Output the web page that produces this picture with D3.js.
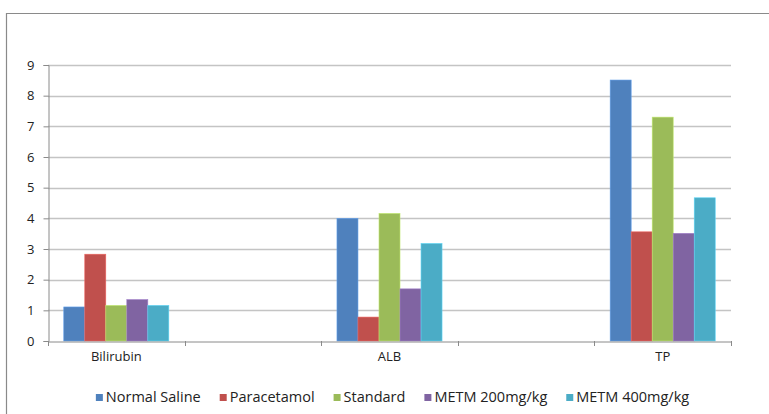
<!DOCTYPE html>
<html>
<head>
<meta charset="utf-8">
<script src="https://cdn.jsdelivr.net/npm/d3@7"></script>
<style>
  html, body { margin: 0; padding: 0; background: #fff; }
  svg { display: block; }
  text { font-family: "Open Sans", "Liberation Sans", sans-serif; fill: #222; }
</style>
</head>
<body>
<svg id="chart" width="769" height="414"></svg>
<script>
// Category slots: blank slots sit between the three measured parameters
const categories = ["Bilirubin", "", "ALB", "", "TP"];
const seriesNames = ["Normal Saline", "Paracetamol", "Standard", "METM 200mg/kg", "METM 400mg/kg"];
const colors = ["#4F81BD", "#C0504D", "#9BBB59", "#8064A2", "#4BACC6"];
// Values per series, one per category slot (null = empty slot)
const normalSaline = [1.11, null, 4.0, null, 8.51];
const paracetamol  = [2.83, null, 0.78, null, 3.56];
const standard     = [1.16, null, 4.16, null, 7.30];
const metm200      = [1.35, null, 1.70, null, 3.51];
const metm400      = [1.16, null, 3.18, null, 4.67];
const seriesValues = [normalSaline, paracetamol, standard, metm200, metm400];
const yTicks = [0, 1, 2, 3, 4, 5, 6, 7, 8, 9];

const svg = d3.select("#chart");
const W = 769, H = 414;

// Outer frame (left and top edges visible)
svg.append("path")
  .attr("d", `M6.5,${H} V13.5 H${W}`)
  .attr("fill", "none").attr("stroke", "#8a8a8a").attr("stroke-width", 1.2);

const plot = { left: 48, right: 731, top: 65, bottom: 341 };

const x = d3.scaleBand().domain(d3.range(categories.length))
  .range([plot.left, plot.right]).paddingInner(0).paddingOuter(0);
const y = d3.scaleLinear().domain([0, 9]).range([plot.bottom, plot.top]);

// Gridlines
svg.append("g").selectAll("line").data(yTicks.filter(d => d > 0)).join("line")
  .attr("x1", plot.left).attr("x2", plot.right)
  .attr("y1", d => Math.round(y(d)) + 0.5).attr("y2", d => Math.round(y(d)) + 0.5)
  .attr("stroke", "#c4c4c4").attr("stroke-width", 1.3);

// Bars: grouped inside each slot with a 150% gap width
const groupW = x.bandwidth() / (1 + 1.5 / 5);
const xs = d3.scaleBand().domain(d3.range(seriesNames.length)).range([0, groupW]);
const barData = [];
seriesValues.forEach((vals, s) => vals.forEach((v, c) => {
  if (v != null) barData.push({ s, c, v });
}));
svg.append("g").selectAll("rect").data(barData).join("rect")
  .attr("x", d => x(d.c) + (x.bandwidth() - groupW) / 2 + xs(d.s))
  .attr("width", xs.bandwidth())
  .attr("y", d => y(d.v))
  .attr("height", d => y(0) - y(d.v))
  .attr("fill", d => colors[d.s])
  .attr("stroke", d => d3.color(colors[d.s]).brighter(0.6))
  .attr("stroke-width", 0.6);

// Y axis
const yAxis = d3.axisLeft(y).tickValues(yTicks).tickSize(5).tickPadding(9).tickFormat(d3.format("d"));
const gy = svg.append("g").attr("transform", `translate(${plot.left + 0.5},0)`).call(yAxis);
gy.select(".domain").attr("stroke", "#8a8a8a");
gy.selectAll(".tick line").attr("stroke", "#8a8a8a");
gy.selectAll("text").attr("font-size", 13).attr("fill", "#222");

// X axis with tick marks between slots
const xAxis = d3.axisBottom(x).tickSize(0).tickFormat(i => categories[i]).tickPadding(10);
const gx = svg.append("g").attr("transform", `translate(0,${plot.bottom + 0.5})`).call(xAxis);
gx.select(".domain").attr("stroke", "#8a8a8a");
gx.selectAll("text").attr("font-size", 13).attr("fill", "#222");
svg.append("g").selectAll("line").data(d3.range(categories.length + 1)).join("line")
  .attr("x1", i => Math.round(plot.left + i * x.bandwidth()) + 0.5)
  .attr("x2", i => Math.round(plot.left + i * x.bandwidth()) + 0.5)
  .attr("y1", plot.bottom).attr("y2", plot.bottom + 5)
  .attr("stroke", "#8a8a8a");

// Legend
const legend = svg.append("g");
const items = legend.selectAll("g").data(seriesNames).join("g");
items.append("rect").attr("width", 7).attr("height", 7).attr("y", -7)
  .attr("fill", (d, i) => colors[i]);
items.append("text").attr("x", 10).attr("y", 0).attr("dy", "0.1em")
  .attr("font-size", 14.5).text(d => d);
let cx = 0;
items.each(function() {
  const g = d3.select(this);
  g.attr("transform", `translate(${cx},0)`);
  cx += 10 + g.select("text").node().getComputedTextLength() + 19;
});
const totalW = cx - 19;
legend.attr("transform", `translate(${392.5 - totalW / 2},401)`);
</script>
</body>
</html>
